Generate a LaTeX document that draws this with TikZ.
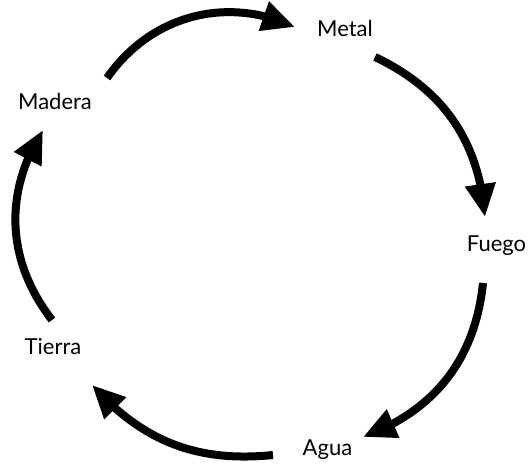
\documentclass[tikz,border=0pt]{standalone}
\usepackage{fontspec}
\setmainfont{Lato}
\usetikzlibrary{arrows.meta,bending}

\begin{document}
\begin{tikzpicture}[x=1pt,y=1pt]

\tikzset{ElementoStyle/.style={font=\fontsize{22}{26}\selectfont,
                               inner sep   = 2pt,
                               text height = 16pt,
                               text depth  = 5pt},
         CicloStyle/.style={line width = 8pt,
                            -{Triangle[length=33pt,width=29pt,flex]}}}

  \useasboundingbox (0,0) rectangle (531,469);

%%% los cinco elementos, en el sentido de las agujas del reloj

   \node[ElementoStyle] (Metal)  at (345,437.5) {Metal};
   \node[ElementoStyle] (Fuego)  at (496.5,222.5) {Fuego};
   \node[ElementoStyle] (Agua)   at (327.5,18.5) {Agua};
   \node[ElementoStyle] (Tierra) at (53,119.5) {Tierra};
   \node[ElementoStyle] (Madera) at (55,364.5) {Madera};

  \draw[CicloStyle] ([shift={(52,26.5)}]Madera.center) to[bend left=40] ([shift={(-50,4.5)}]Metal.center);
  \draw[CicloStyle] ([shift={(30,-25.5)}]Metal.center) to[bend left=30] ([shift={(-11.5,29.5)}]Fuego.center);
  \draw[CicloStyle] ([shift={(-13.5,-36.5)}]Fuego.center) to[bend left=32] ([shift={(35.5,13.5)}]Agua.center);
  \draw[CicloStyle] ([shift={(-54.5,-4.5)}]Agua.center) to[bend left=27] ([shift={(39,-35.5)}]Tierra.center);
  \draw[CicloStyle] ([shift={(-1,29.5)}]Tierra.center) to[bend left=35] ([shift={(-12,-25.5)}]Madera.center);

\end{tikzpicture}
\end{document}
